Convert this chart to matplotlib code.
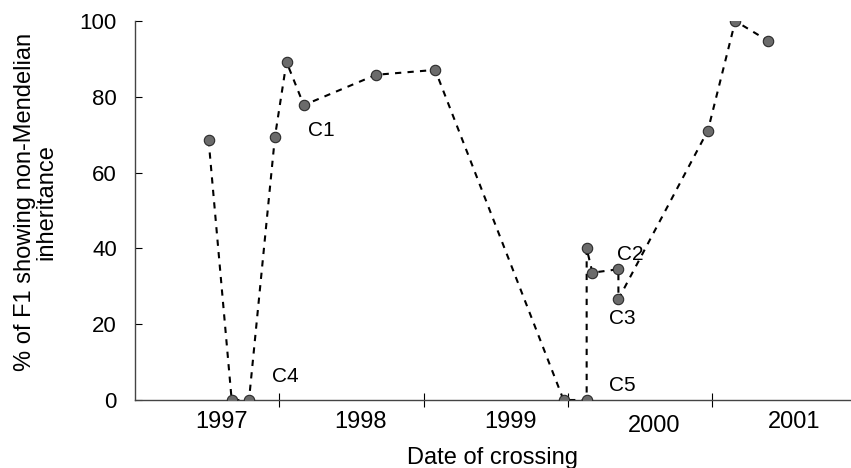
import matplotlib
matplotlib.use('Agg')
import matplotlib.pyplot as plt
from matplotlib.transforms import ScaledTranslation

plt.rcParams['font.family'] = ['Liberation Sans', 'DejaVu Sans']

# --- data ---
# date of crossing as decimal year, % of F1 showing non-Mendelian inheritance
dates = [1997.51, 1997.67, 1997.79, 1997.97, 1998.05, 1998.17, 1998.67, 1999.08,
         1999.97, 2000.13, 2000.13, 2000.17, 2000.35, 2000.35, 2000.97, 2001.16, 2001.39]
pct = [68.6, 0, 0, 69.5, 89.2, 77.8, 85.8, 87.1,
       0, 0, 40.0, 33.6, 34.5, 26.6, 71.1, 100, 94.7]

year_labels = ['1997', '1998', '1999', '2000', '2001']
year_label_pos = [1997.6, 1998.56, 1999.6, 2000.6, 2001.57]
year_bounds = [1998, 1999, 2000, 2001]

# cross labels: (text, x, y)
cross_labels = [('C1', 1998.29, 71.0), ('C4', 1998.04, 6.3), ('C2', 2000.43, 38.5),
                ('C3', 2000.375, 21.6), ('C5', 2000.375, 3.7)]

fig = plt.figure(figsize=(8.51, 4.68), dpi=100)
ax = fig.add_axes([135/851, 1-400/468, 715/851, 379/468])

ax.plot(dates, pct, ls=(0, (3, 3)), color='black', lw=1.5, zorder=2)
ax.plot(dates, pct, ls='none', marker='o', ms=7.5, mfc='#6b6b6b',
        mec='#2a2a2a', mew=0.8, zorder=3)

for txt, x, y in cross_labels:
    ax.text(x, y, txt, fontsize=15, ha='center', va='center')

ax.set_xlim(1997, 1997 + 715/144.3)
ax.set_ylim(0, 100)

ax.set_yticks([0, 20, 40, 60, 80, 100])
ax.tick_params(axis='y', direction='in', length=5, width=0.8, labelsize=16, pad=13)

ax.set_xticks(year_bounds)
ax.set_xticklabels([])
ax.set_xticks(year_label_pos, minor=True)
ax.set_xticklabels(year_labels, minor=True)
ax.tick_params(axis='x', which='major', direction='inout', length=10, width=0.8)
ax.tick_params(axis='x', which='minor', length=0, labelsize=17, pad=8)
# the "2000" label sits a little lower in the original
lbl = ax.get_xticklabels(minor=True)[3]
lbl.set_transform(lbl.get_transform() + ScaledTranslation(0, -4/100, fig.dpi_scale_trans))

for s in ['top', 'right']:
    ax.spines[s].set_visible(False)
for s in ['left', 'bottom']:
    ax.spines[s].set_color('#444444')
    ax.spines[s].set_linewidth(1.0)

ax.set_xlabel('Date of crossing', fontsize=17, labelpad=7)
yl = ax.set_ylabel('% of F1 showing non-Mendelian\ninheritance', fontsize=17,
                   linespacing=1.0)
yl.set_va('center')
ax.yaxis.set_label_coords(-0.139, 0.522)

fig.savefig('out.png', dpi=100)
